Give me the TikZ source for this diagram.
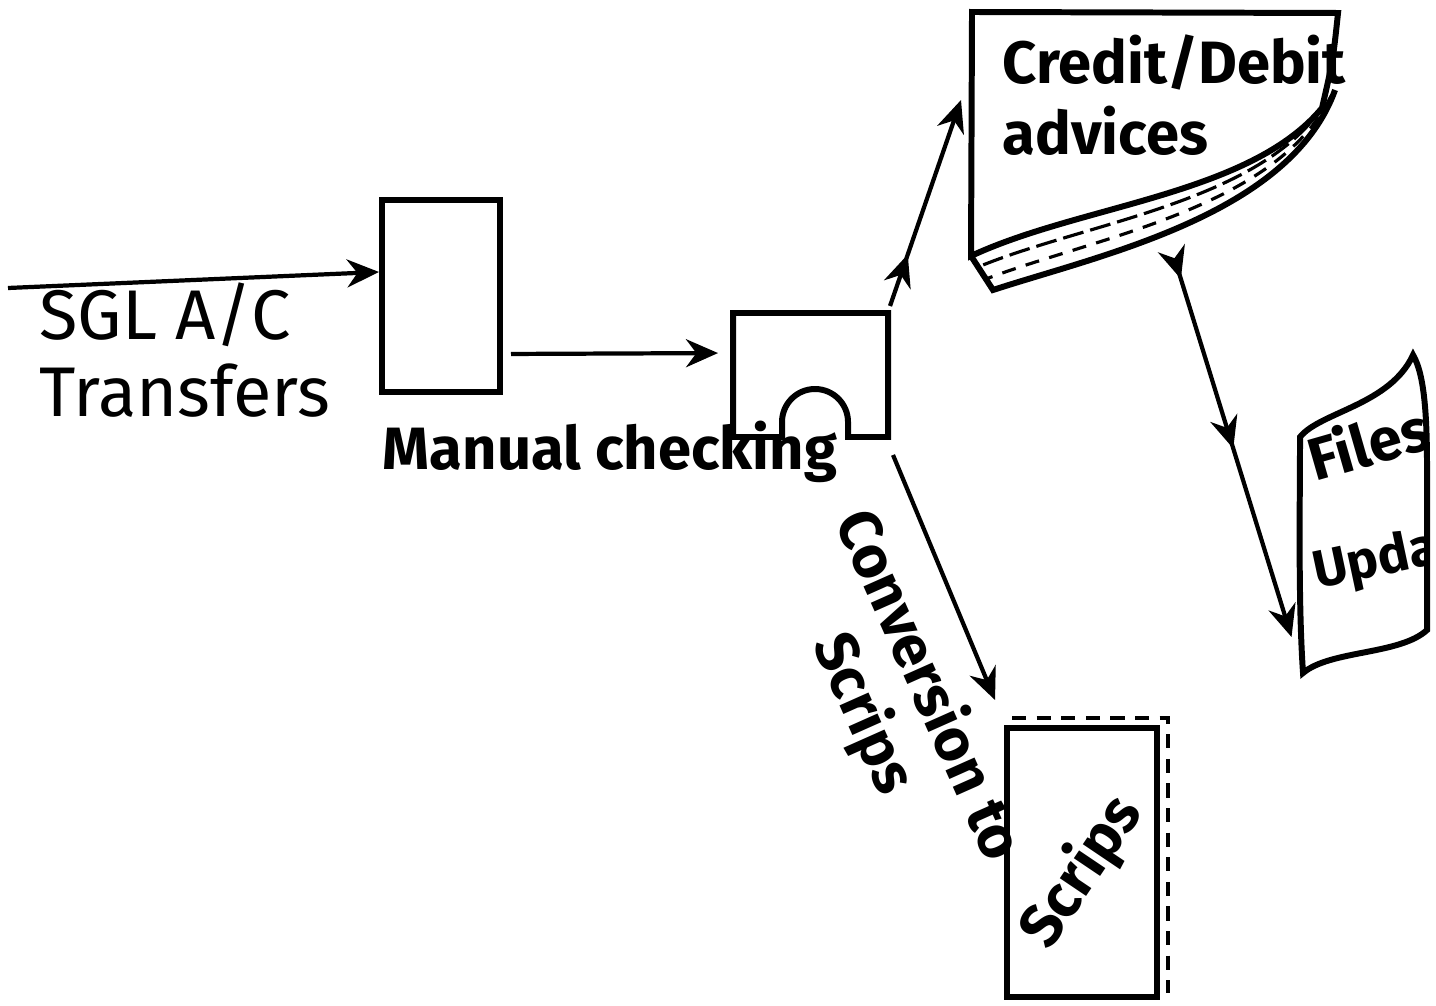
\documentclass[tikz,border=0pt]{standalone}
\usepackage{fontspec}
\setmainfont{Fira Sans}
\usetikzlibrary{arrows.meta,decorations.markings}

\begin{document}
\begin{tikzpicture}[line width=1.7pt, >={Stealth[length=3.2mm,width=2.8mm]},
  flow/.style={->, line width=1.2pt},
  hand/.style={font=\bfseries\fontsize{17}{20}\selectfont},
  midarrow/.style={postaction={decorate}, decoration={markings, mark=at position #1 with {\arrow{>}}}}]

\useasboundingbox (0,0) rectangle (14.36,-10.05);

\coordinate (in) at (0.08,-2.88);
\node (A) at (4.41,-2.96) [draw, minimum width=1.18cm, minimum height=1.92cm]{};
\node (A-1) at (1.85,-3.5) [align=left, font=\fontsize{20}{22}\selectfont]{SGL A/C\\Transfers};

% manual checking
\node (B) at (8.105,-3.75) [minimum width=1.55cm, minimum height=1.24cm, inner sep=0, outer sep=0]{};
\draw (B.south east) -- (B.north east) -- (B.north west) -- (B.south west) -- (7.82,-4.37) -- (7.82,-4.22)
  arc[start angle=180, end angle=0, radius=0.33] -- (8.48,-4.37) -- cycle;
\node (B-1) at (6.1,-4.52) [hand]{Manual checking};

% credit / debit advices
\node (C) at (11.55,-1.37) [minimum width=3.68cm, minimum height=2.5cm, inner sep=0, outer sep=0]{};
\draw (9.72,-0.12) -- (13.38,-0.13) .. controls (13.33,-0.6) .. (13.22,-1.08)
  .. controls (12.5,-1.95) and (10.8,-2.05) .. (9.71,-2.56) -- cycle;
\draw (13.35,-0.9) .. controls (12.9,-2.15) and (11.0,-2.55) .. (9.93,-2.9) -- (9.71,-2.56);
\draw [line width=0.9pt, dash pattern=on 6pt off 2pt] (13.26,-1.02) .. controls (12.63,-2.02) and (10.87,-2.22) .. (9.78,-2.67);
\draw [line width=0.9pt, dash pattern=on 4pt off 3pt] (13.31,-0.96) .. controls (12.77,-2.08) and (10.93,-2.38) .. (9.86,-2.79);
\node (C-1) at (9.88,-0.95) [hand, align=left, anchor=west]{Credit/Debit\\advices};

% files updated
\node (D) at (13.63,-5.15) [minimum width=1.27cm, minimum height=3.2cm, inner sep=0, outer sep=0]{};
\begin{scope}
\draw [clip] (13.00,-4.37) .. controls (13.2,-4.12) and (13.9,-4.05) .. (14.13,-3.55)
  .. controls (14.25,-3.75) and (14.27,-4.2) .. (14.27,-4.7) -- (14.27,-6.30)
  .. controls (14.0,-6.55) and (13.3,-6.5) .. (13.03,-6.73)
  .. controls (12.98,-6.0) and (13.0,-5.0) .. (13.00,-4.37) -- cycle;
\node (D-1) at (13.68,-4.42) [hand, rotate=16]{Files};
\node (D-2) at (13.0,-5.78) [hand, font=\bfseries\fontsize{15}{18}\selectfont, rotate=12, anchor=west]{Update};
\end{scope}

% scrips
\node (E) at (10.82,-8.625) [draw, minimum width=1.5cm, minimum height=2.69cm]{};
\draw [line width=1.3pt, dash pattern=on 4pt off 3pt] ([shift={(0.08,0.07)}]E.north west) -- ([shift={(0.08,0.07)}]E.north east) -- ([shift={(0.08,0.07)}]E.south east);
\node (E-1) at (10.82,-8.72) [hand, rotate=56]{Scrips};

\draw [flow] (in) -- ([yshift=0.24cm]A.west);
\draw [flow, shorten <=0.08cm, shorten >=0.15cm] ([yshift=-0.58cm]A.east) -- ([yshift=0.22cm]B.west);
\draw [flow, midarrow=0.25] ([shift={(0.02,0.07)}]B.north east) -- ([shift={(-0.1,0.37)}]C.west);
\draw [flow, postaction={decorate}, decoration={markings, mark=at position 0.05 with {\arrow{>}}, mark=at position 0.5 with {\arrow{>}}}]
  ([shift={(0.2,0.02)}]C.south) -- ([shift={(-0.08,-1.22)}]D.west);
\draw [flow] ([shift={(0.05,-0.18)}]B.south east) -- ([shift={(-0.09,0.25)}]E.north west);
\node (F) at (8.95,-7.0) [hand, rotate=-66, align=center]{Conversion to\\Scrips};

\end{tikzpicture}
\end{document}
